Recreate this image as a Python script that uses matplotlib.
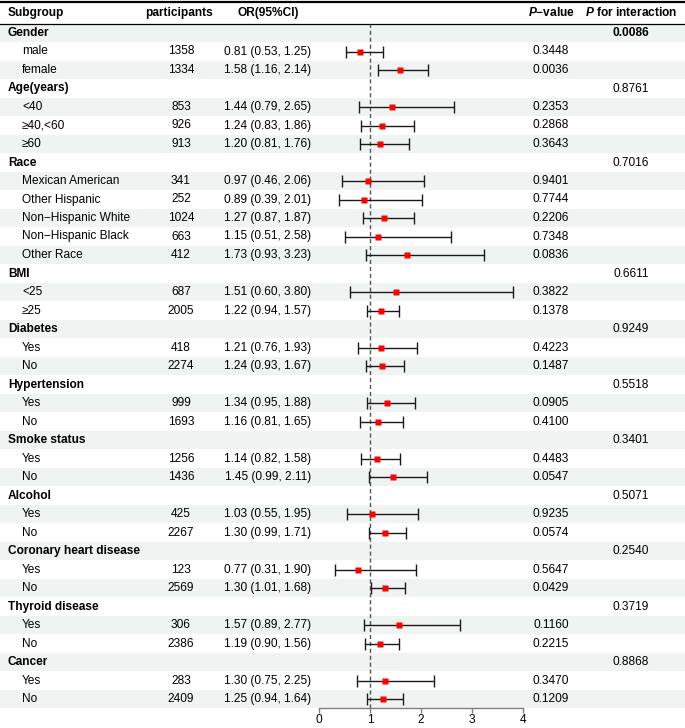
import numpy as np
import matplotlib
matplotlib.use("Agg")
import matplotlib.pyplot as plt

plt.rcParams['font.family'] = ['Liberation Sans', 'DejaVu Sans']
plt.rcParams['mathtext.fontset'] = 'custom'
plt.rcParams['mathtext.it'] = 'Liberation Sans:italic:bold'
plt.rcParams['mathtext.rm'] = 'Liberation Sans:bold'

# ===== DATA =====
groups = ["Gender", "Age(years)", "Race", "BMI", "Diabetes", "Hypertension",
          "Smoke status", "Alcohol", "Coronary heart disease", "Thyroid disease", "Cancer"]
p_interaction = ["0.0086", "0.8761", "0.7016", "0.6611", "0.9249", "0.5518",
                 "0.3401", "0.5071", "0.2540", "0.3719", "0.8868"]
subgroups = [
    ["male", "female"],
    ["<40", "≥40,<60", "≥60"],
    ["Mexican American", "Other Hispanic", "Non−Hispanic White", "Non−Hispanic Black", "Other Race"],
    ["<25", "≥25"],
    ["Yes", "No"],
    ["Yes", "No"],
    ["Yes", "No"],
    ["Yes", "No"],
    ["Yes", "No"],
    ["Yes", "No"],
    ["Yes", "No"],
]
participants = [1358, 1334, 853, 926, 913, 341, 252, 1024, 663, 412, 687, 2005,
                418, 2274, 999, 1693, 1256, 1436, 425, 2267, 123, 2569, 306, 2386, 283, 2409]
or_est = [0.81, 1.58, 1.44, 1.24, 1.20, 0.97, 0.89, 1.27, 1.15, 1.73, 1.51, 1.22,
          1.21, 1.24, 1.34, 1.16, 1.14, 1.45, 1.03, 1.30, 0.77, 1.30, 1.57, 1.19, 1.30, 1.25]
or_low = [0.53, 1.16, 0.79, 0.83, 0.81, 0.46, 0.39, 0.87, 0.51, 0.93, 0.60, 0.94,
          0.76, 0.93, 0.95, 0.81, 0.82, 0.99, 0.55, 0.99, 0.31, 1.01, 0.89, 0.90, 0.75, 0.94]
or_high = [1.25, 2.14, 2.65, 1.86, 1.76, 2.06, 2.01, 1.87, 2.58, 3.23, 3.80, 1.57,
           1.93, 1.67, 1.88, 1.65, 1.58, 2.11, 1.95, 1.71, 1.90, 1.68, 2.77, 1.56, 2.25, 1.64]
p_values = ["0.3448", "0.0036", "0.2353", "0.2868", "0.3643", "0.9401", "0.7744",
            "0.2206", "0.7348", "0.0836", "0.3822", "0.1378", "0.4223", "0.1487",
            "0.0905", "0.4100", "0.4483", "0.0547", "0.9235", "0.0574", "0.5647",
            "0.0429", "0.1160", "0.2215", "0.3470", "0.1209"]
x_ticks = [0, 1, 2, 3, 4]

# ===== LAYOUT (pixels) =====
W, H = 685, 728
ROW0, ROW_H = 33, 18.5
FS = 8.6
n_rows = len(groups) + len(participants)

fig = plt.figure(figsize=(W / 100, H / 100), dpi=100)
ax = fig.add_axes([0, 0, 1, 1])
ax.set_xlim(0, W)
ax.set_ylim((H - ROW0) / ROW_H, -ROW0 / ROW_H)
ax.axis('off')

# shading of alternate rows
for i in range(0, n_rows, 2):
    ax.axhspan(i - 0.5, i + 0.5, color="#eff3f2", lw=0, zorder=0)

# header
hy = (13 - ROW0) / ROW_H
ax.text(8, hy, "Subgroup", fontsize=FS, fontweight='bold', va='center')
ax.text(179, hy, "participants", fontsize=FS, fontweight='bold', va='center', ha='center')
ax.text(268, hy, "OR(95%CI)", fontsize=FS, fontweight='bold', va='center', ha='center')
ax.text(551, hy, r"$\mathit{P}$−value", fontsize=FS, fontweight='bold', va='center', ha='center')
ax.text(631, hy, r"$\mathit{P}$ for interaction", fontsize=FS, fontweight='bold', va='center', ha='center')
ax.axhline((2 - ROW0) / ROW_H, color='black', lw=1.6)
ax.axhline(-0.5, color='black', lw=0.9)

# table body
rows_y = []
row = 0
k = 0
for g, subs, pint in zip(groups, subgroups, p_interaction):
    ax.text(8, row, g, fontsize=FS, fontweight='bold', va='center')
    ax.text(631, row, pint, fontsize=FS, va='center', ha='center',
            fontweight='bold' if float(pint) < 0.05 else 'normal')
    row += 1
    for s in subs:
        ax.text(22, row, s, fontsize=FS, va='center')
        ax.text(181, row, str(participants[k]), fontsize=FS, va='center', ha='center')
        ax.text(268, row, f"{or_est[k]:.2f} ({or_low[k]:.2f}, {or_high[k]:.2f})",
                fontsize=FS, va='center', ha='center')
        ax.text(551, row, p_values[k], fontsize=FS, va='center', ha='center')
        rows_y.append(row)
        row += 1
        k += 1

# ===== FOREST =====
x0, x4 = 319, 523
top_px = ROW0 - 0.5 * ROW_H
bot_px = ROW0 + (n_rows - 0.5) * ROW_H
fax = fig.add_axes([x0 / W, (H - bot_px) / H, (x4 - x0) / W, (bot_px - top_px) / H])
fax.patch.set_alpha(0)
fax.set_xlim(0, 4)
fax.set_ylim(n_rows - 0.5, -0.5)

est = np.array(or_est)
lo = np.array(or_low)
hi = np.array(or_high)
fax.axvline(1, color='#555555', lw=1, dashes=(3, 2), zorder=1)
fax.errorbar(est, rows_y, xerr=[est - lo, hi - est], fmt='none', ecolor='#1a1a1a',
             elinewidth=1, capsize=4, capthick=1, zorder=2)
fax.plot(est, rows_y, 's', color='#ff0000', ms=4.2, mec='none', zorder=3)

for s in ['top', 'right', 'left']:
    fax.spines[s].set_visible(False)
fax.spines['bottom'].set_color('#808080')
fax.spines['bottom'].set_linewidth(1)
fax.set_yticks([])
fax.set_xticks(x_ticks)
fax.tick_params(axis='x', length=3.8, width=1, color='#808080', labelsize=FS, pad=0.6)

fig.savefig("out.png", dpi=100)
